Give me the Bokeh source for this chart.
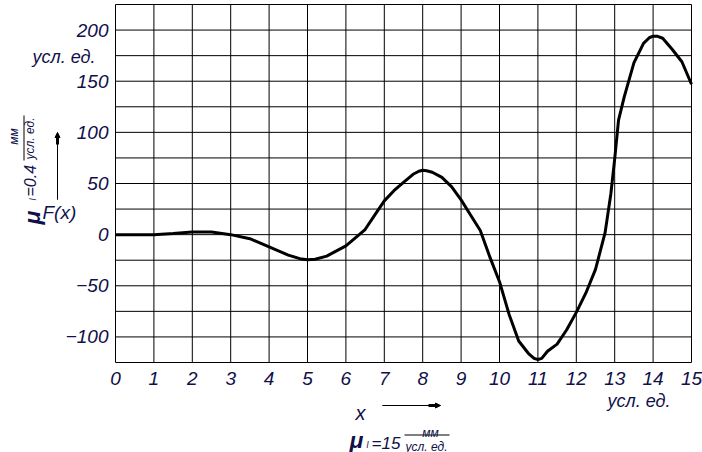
import math
from bokeh.plotting import figure
from bokeh.models import Label, Arrow, NormalHead, Range1d
from bokeh.embed import file_html
from bokeh.resources import INLINE

# ---- data ----
x_vals = [0, 0.5, 1, 1.5, 2, 2.5, 3, 3.5, 4, 4.5, 4.8, 5, 5.2, 5.5, 6, 6.5, 6.75, 7,
          7.25, 7.5, 7.75, 7.9, 8, 8.1, 8.25, 8.5, 8.75, 9, 9.25, 9.5, 9.75, 10,
          10.25, 10.5, 10.75, 10.9, 11, 11.1, 11.25, 11.5, 11.75, 12, 12.25, 12.5,
          12.75, 12.9, 13, 13.1, 13.25, 13.5, 13.75, 13.9, 14, 14.1, 14.25, 14.5,
          14.75, 15]
f_vals = [0, 0, 0, 1, 2.5, 2.5, 0, -4, -12, -20, -23.5, -24.5, -24, -21, -11, 5, 19,
          33, 43, 51, 59, 62, 63, 62.5, 61, 56, 47, 34, 19, 4, -22, -46,
          -78, -104, -116, -121, -122, -121, -114, -107, -93, -76, -57, -34,
          2, 40, 74, 112, 135, 168, 187, 192.5, 194, 194, 192, 181,
          169, 147]

x_ticks = list(range(0, 16))
x_tick_labels = [str(v) for v in x_ticks]
y_ticks = [-100, -50, 0, 50, 100, 150, 200]
y_tick_labels = ["\u2212100", "\u221250", "0", "50", "100", "150", "200"]
x_grid = list(range(0, 16))
y_grid = list(range(-125, 226, 25))

unit_text = "усл. ед."
y_scale_text = "=0.4"
x_scale_text = "=15"
frac_top = "мм"
frac_bottom = "усл. ед."
y_name = "F(x)"
x_name = "x"

FONT = "Liberation Sans"
TXT = "#10104a"

# layout: page pixel geometry of the chart frame
W, H = 702, 452
PAGE0 = 0
FX0, FX1 = 115, 691  # frame left/right (page px)
FY0, FY1 = 4, 362    # frame top/bottom (page px)
XMIN, XMAX = 0, 15
YMIN, YMAX = -125, 225
sx = (FX1 - FX0) / (XMAX - XMIN)
sy = (FY1 - FY0) / (YMAX - YMIN)


def xd(px):
    return XMIN + (px - FX0) / sx


def yd(py):
    return YMAX - (py - FY0) / sy


p = figure(width=W, height=H, output_backend="svg", toolbar_location=None,
           x_range=Range1d(xd(PAGE0), xd(PAGE0 + W)),
           y_range=Range1d(yd(PAGE0 + H), yd(PAGE0)),
           min_border=0, x_axis_type=None, y_axis_type=None)
p.background_fill_color = "white"
p.border_fill_color = "white"
p.outline_line_color = None
p.xgrid.grid_line_color = None
p.ygrid.grid_line_color = None

# grid (frame edges included)
p.segment(x0=x_grid, y0=[YMIN] * len(x_grid), x1=x_grid, y1=[YMAX] * len(x_grid),
          line_color="black", line_width=1)
p.segment(x0=[XMIN] * len(y_grid), y0=y_grid, x1=[XMAX] * len(y_grid), y1=y_grid,
          line_color="black", line_width=1)

p.line(x_vals, f_vals, line_color="black", line_width=3, line_join="round")

# tick labels
p.text(x=x_ticks, y=[yd(378)] * len(x_ticks), text=x_tick_labels,
       text_font={"value": FONT}, text_font_style="italic", text_font_size="19px",
       text_color=TXT, text_align="center", text_baseline="middle")
p.text(x=[xd(108)] * len(y_ticks), y=y_ticks, text=y_tick_labels,
       text_font={"value": FONT}, text_font_style="italic", text_font_size="19px",
       text_color=TXT, text_align="right", text_baseline="middle")


def lab(px, py, text, size, align="left", baseline="middle", angle=0.0,
        style="italic"):
    p.add_layout(Label(x=xd(px), y=yd(py), text=text, text_font=FONT,
                       text_font_style=style, text_font_size=f"{size}px",
                       text_color=TXT, text_align=align, text_baseline=baseline,
                       angle=angle))


def seg(px0, py0, px1, py1, w=1):
    p.add_layout(Arrow(start=None, end=None, x_start=xd(px0), y_start=yd(py0),
                       x_end=xd(px1), y_end=yd(py1), line_color="black",
                       line_width=w))


def arrow(px0, py0, px1, py1):
    seg(px0, py0, px1, py1, 1)
    if px0 == px1:
        seg(px1, py1 + 12, px1, py1 + 3, 3)
    else:
        seg(px1 - 12, py1, px1 - 3, py1, 3)
    p.add_layout(Arrow(end=NormalHead(size=5, fill_color="black", line_color="black"),
                       x_start=xd(px0), y_start=yd(py0), x_end=xd(px1), y_end=yd(py1),
                       line_color="black", line_width=1))


# y axis unit
lab(32, 56, unit_text, 18)
# y axis name and arrow
lab(42, 212, y_name, 19)
arrow(57, 199, 57, 132)
# rotated scale label on the left
R = math.pi / 2
lab(31, 224, "μ", 23, baseline="alphabetic", angle=R, style="bold italic")
lab(32, 200, "l", 9, baseline="alphabetic", angle=R)
lab(30, 196, y_scale_text, 16, baseline="alphabetic", angle=R)
seg(23.5, 160, 23.5, 115)
lab(13, 136, frac_top, 12, align="center", baseline="alphabetic", angle=R)
lab(29, 138, frac_bottom, 12, align="center", baseline="alphabetic", angle=R)

# x axis name, arrow, unit
lab(355, 412, x_name, 20, baseline="alphabetic")
arrow(382, 405, 440, 405)
lab(607, 400, unit_text, 18)
# x scale label
lab(349, 439, "μ", 23, baseline="alphabetic", style="bold italic")
lab(366, 444, "l", 9, baseline="alphabetic")
lab(371, 443, x_scale_text, 17, baseline="alphabetic")
seg(404, 434.5, 449, 434.5)
lab(430, 432, frac_top, 12, align="center", baseline="alphabetic")
lab(426, 446, frac_bottom, 12, align="center", baseline="alphabetic")

open("out.html", "w").write(file_html(p, INLINE))
